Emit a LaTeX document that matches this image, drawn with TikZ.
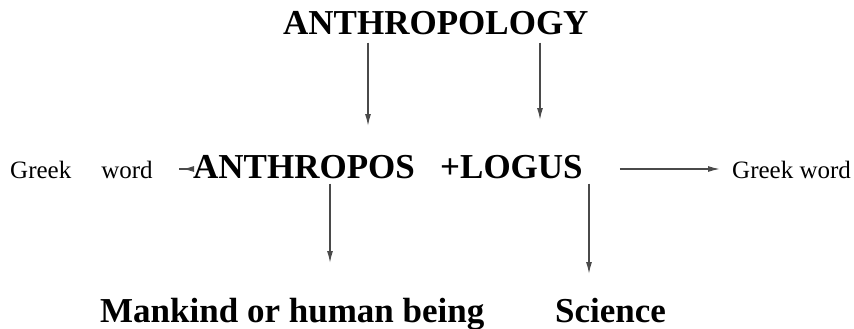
\documentclass[tikz,border=0pt]{standalone}
\usepackage{fontspec}
\setmainfont{Liberation Serif}
\usepackage{tikz}
\usetikzlibrary{arrows.meta,positioning,calc}
\definecolor{ink}{HTML}{4A4A4A}

\begin{document}
\begin{tikzpicture}[x=1pt, y=-1pt, big/.style={font=\fontsize{35}{40}\selectfont\bfseries, inner sep=0pt, anchor=base west}, small/.style={font=\fontsize{25}{30}\selectfont, inner sep=0pt, anchor=base west}, arr/.style={-{Latex[length=12pt,width=6pt]}, line width=1.4pt, ink}]
\useasboundingbox (0,0) rectangle (854,329);
\node[big] (anthropology) at (283,35) {ANTHROPOLOGY};
\node[big] (anthropos) at (193,178) {ANTHROPOS};
\node[big] (logus) at (440,178) {+LOGUS};
\node[small] (greekl) at (10,178) {Greek\hspace{30pt}word};
\node[small] (greekr) at (732,178) {Greek word};
\node[big] (mankind) at (100,322) {Mankind or human being};
\node[big] (science) at (555,322) {Science};
\coordinate (tipa) at (368,126);
\coordinate (tipb) at (540,120);
\coordinate (tipc) at (330,263);
\coordinate (tipd) at (589,274);
\coordinate (tipl) at (182,169);
\coordinate (tipr) at (720,169);
\draw[arr, shorten <=7pt] (anthropology.south -| tipa)--(tipa);
\draw[arr, shorten <=7pt] (anthropology.south -| tipb)--(tipb);
\draw[arr, shorten <=5pt] (anthropos.south -| tipc)--(tipc);
\draw[arr, shorten <=5pt] (logus.south -| tipd)--(tipd);
\draw[arr, shorten <=-14pt] (anthropos.west |- tipl)--(tipl);
\draw[arr, shorten <=37pt] (logus.east |- tipr)--(tipr);
\end{tikzpicture}
\end{document}
